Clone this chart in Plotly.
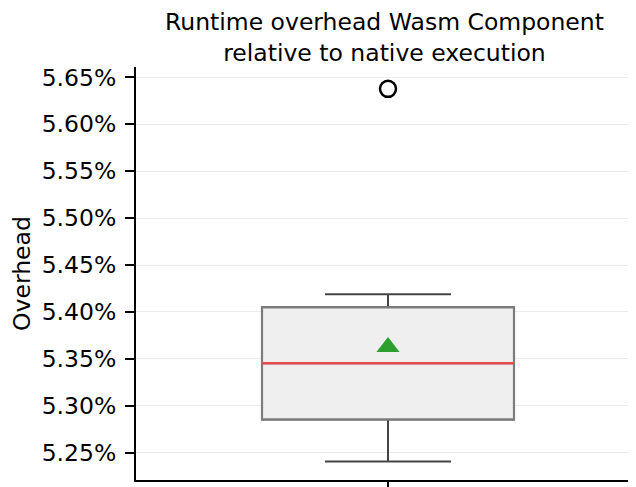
import plotly.graph_objects as go

# Data (percent overhead)
category = [1]
q1 = [5.2855]
median = [5.3454]
q3 = [5.4050]
lower_whisker = [5.2408]
upper_whisker = [5.4188]
mean = [5.3628]
outliers = [5.6377]
tick_vals = [5.25, 5.30, 5.35, 5.40, 5.45, 5.50, 5.55, 5.60, 5.65]
tick_text = [f"{v:.2f}%" for v in tick_vals]
title_text = "Runtime overhead Wasm Component<br>relative to native execution"

box_width = 0.5
FONT = "DejaVu Sans"
FS = 23.5

fig = go.Figure()

# whiskers (dark)
fig.add_trace(go.Box(
    x=category, q1=q1, median=median, q3=q3,
    lowerfence=lower_whisker, upperfence=upper_whisker,
    width=box_width, whiskerwidth=0.5,
    fillcolor="#efefef", line=dict(color="#444444", width=2),
    boxpoints=False, showlegend=False, hoverinfo="skip",
))
# box body (grey edge)
fig.add_trace(go.Box(
    x=category, q1=q1, median=median, q3=q3,
    lowerfence=q1, upperfence=q3,
    width=box_width, whiskerwidth=0,
    fillcolor="#efefef", line=dict(color="#7c7c7c", width=2.2),
    boxpoints=False, showlegend=False, hoverinfo="skip",
))
# median line
fig.add_trace(go.Scatter(
    x=[category[0] - box_width / 2, category[0] + box_width / 2],
    y=[median[0], median[0]],
    mode="lines", line=dict(color="#e34a4f", width=2.4),
    showlegend=False, hoverinfo="skip",
))
# mean marker
fig.add_trace(go.Scatter(
    x=category, y=mean, mode="markers",
    marker=dict(symbol="triangle-up", size=20, color="#2ca02c", line=dict(width=0)),
    showlegend=False,
))
# outliers
fig.add_trace(go.Scatter(
    x=[category[0]] * len(outliers), y=outliers, mode="markers",
    marker=dict(symbol="circle-open", size=16, color="black", line=dict(width=2.5, color="black")),
    showlegend=False,
))

fig.update_layout(
    template="none",
    width=628, height=479,
    margin=dict(l=128, r=0, t=59, b=7, autoexpand=False),
    paper_bgcolor="white", plot_bgcolor="white",
    boxmode="overlay",
    font=dict(family=FONT, size=FS, color="black"),
    annotations=[dict(
        text=title_text, xref="paper", yref="paper", x=0.496, y=1 + 61 / 413,
        xanchor="center", yanchor="top", showarrow=False,
        font=dict(family=FONT, size=FS, color="black"),
    )],
    xaxis=dict(
        range=[0.5, 1.49206], tickvals=category, ticktext=[""],
        ticks="outside", ticklen=9, tickwidth=2, tickcolor="black",
        showline=True, linecolor="black", linewidth=2,
        showgrid=False, zeroline=False, fixedrange=True, automargin=False,
    ),
    yaxis=dict(
        range=[5.221, 5.661], tickvals=tick_vals, ticktext=tick_text,
        ticks="outside", ticklen=9, tickwidth=2, tickcolor="black",
        showline=True, linecolor="black", linewidth=2,
        showgrid=True, gridcolor="#ebebeb", gridwidth=1,
        zeroline=False, ticklabelstandoff=4, automargin=False,
        tickfont=dict(family=FONT, size=FS, color="black"),
        title=dict(text="Overhead", standoff=12, font=dict(family=FONT, size=FS, color="black")),
    ),
)

fig.write_html("out.html")
